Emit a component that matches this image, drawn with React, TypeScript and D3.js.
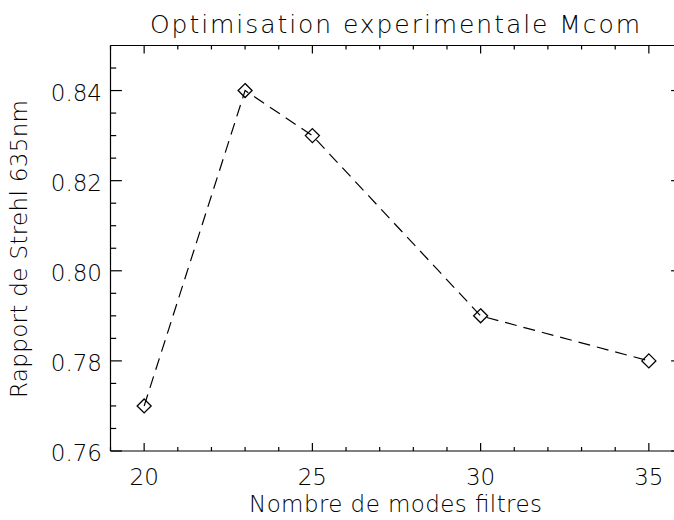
import React from "react";
import * as d3 from "d3";

const modes: number[] = [20, 23, 25, 30, 35];
const strehl: number[] = [0.77, 0.84, 0.83, 0.79, 0.78];
const xTicks: number[] = [20, 25, 30, 35];
const xMinor: number[] = [19, 21, 22, 23, 24, 26, 27, 28, 29, 31, 32, 33, 34, 36];
const yTicks: number[] = [0.76, 0.78, 0.8, 0.82, 0.84];
const yMinor: number[] = [0.765, 0.77, 0.775, 0.785, 0.79, 0.795, 0.805, 0.81, 0.815, 0.825, 0.83, 0.835, 0.845];
const title = "Optimisation experimentale Mcom";
const xTitle = "Nombre de modes filtres";
const yTitle = "Rapport de Strehl 635nm";

const W = 674;
const H = 520;
const L = 110.5, R = 682.5, T = 45.5, B = 451;
const FONT = "'DejaVu Sans', sans-serif";

export default function App() {
  const x = d3.scaleLinear().domain([19, 36]).range([L, R]);
  const y = d3.scaleLinear().domain([0.76, 0.85]).range([B, T]);
  const line = d3
    .line<number>()
    .x((_, i) => x(modes[i]))
    .y((d) => y(d));
  const xMaj = 8, xMin = 4, yMaj = 11.4, yMin = 5.7;
  const diamond = (cx: number, cy: number, r: number) =>
    `M${cx},${cy - r}L${cx + r},${cy}L${cx},${cy + r}L${cx - r},${cy}Z`;
  return (
    <svg
      width={W}
      height={H}
      style={{ position: "absolute", left: 0, top: 0, background: "#fff" }}
      fontFamily={FONT}
      fontWeight={200}
    >
      <rect x={0} y={0} width={W} height={H} fill="#fff" />
      {/* frame */}
      <g stroke="#000" strokeWidth={1.2} fill="none">
        <line x1={L} y1={T} x2={R} y2={T} />
        <line x1={L} y1={B} x2={R} y2={B} />
        <line x1={L} y1={T} x2={L} y2={B} />
        <line x1={R} y1={T} x2={R} y2={B} />
        {xTicks.map((t) => (
          <g key={"xt" + t}>
            <line x1={x(t)} x2={x(t)} y1={B} y2={B - xMaj} />
            <line x1={x(t)} x2={x(t)} y1={T} y2={T + xMaj} />
          </g>
        ))}
        {xMinor.map((t) => (
          <g key={"xm" + t}>
            <line x1={x(t)} x2={x(t)} y1={B} y2={B - xMin} />
            <line x1={x(t)} x2={x(t)} y1={T} y2={T + xMin} />
          </g>
        ))}
        {yTicks.map((t) => (
          <g key={"yt" + t}>
            <line x1={L} x2={L + yMaj} y1={y(t)} y2={y(t)} />
            <line x1={R} x2={R - yMaj} y1={y(t)} y2={y(t)} />
          </g>
        ))}
        {yMinor.map((t) => (
          <g key={"ym" + t}>
            <line x1={L} x2={L + yMin} y1={y(t)} y2={y(t)} />
            <line x1={R} x2={R - yMin} y1={y(t)} y2={y(t)} />
          </g>
        ))}
      </g>
      {/* data */}
      <path
        d={line(strehl) || ""}
        fill="none"
        stroke="#000"
        strokeWidth={1.2}
        strokeDasharray="12,7"
      />
      {strehl.map((v, i) => (
        <path
          key={"pt" + i}
          d={diamond(x(modes[i]), y(v), 7)}
          fill="none"
          stroke="#000"
          strokeWidth={1.3}
        />
      ))}
      {/* tick labels */}
      <g fill="#000" fontSize={23}>
        {xTicks.map((t) => (
          <text key={"xl" + t} x={x(t)} y={485} textAnchor="middle">
            {String(t)}
          </text>
        ))}
        {yTicks.map((t) => (
          <text key={"yl" + t} x={102} y={y(t) + 10} textAnchor="end">
            {d3.format(".2f")(t)}
          </text>
        ))}
      </g>
      {/* titles */}
      <text
        x={395}
        y={33}
        textAnchor="middle"
        fontSize={25}
        textLength={490}
        lengthAdjust="spacing"
      >
        {title}
      </text>
      <text
        x={395.5}
        y={512}
        textAnchor="middle"
        fontSize={23}
        textLength={293}
        lengthAdjust="spacing"
      >
        {xTitle}
      </text>
      <text
        transform="translate(27,249) rotate(-90)"
        textAnchor="middle"
        fontSize={23}
        textLength={298}
        lengthAdjust="spacing"
      >
        {yTitle}
      </text>
    </svg>
  );
}
